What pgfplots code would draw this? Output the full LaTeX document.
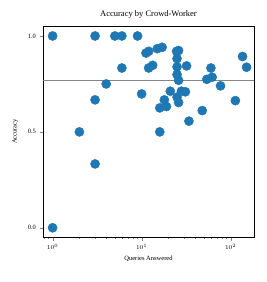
\documentclass[border=0pt]{standalone}
\usepackage{pgfplots}
\pgfplotsset{compat=1.18}
\usepackage{fontspec}
\setmainfont{Liberation Serif}
\definecolor{tabblue}{HTML}{1F77B4}
\begin{document}
\begin{tikzpicture}
\begin{axis}[
  scale only axis, width=211pt, height=211pt,
  xmode=log, xmin=0.78, xmax=183, ymin=-0.048, ymax=1.052,
  ytick={0,0.5,1}, yticklabel style={/pgf/number format/.cd, fixed, fixed zerofill, precision=1},
  /pgf/number format/assume math mode=true,
  tick align=outside, xtick pos=bottom, ytick pos=left,
  major tick length=3.5pt, minor tick length=2pt,
  tick label style={font=\fontsize{6.5}{7.5}\selectfont},
  label style={font=\fontsize{6.5}{8}\selectfont},
  title style={font=\fontsize{8.5}{10}\selectfont, yshift=-2pt},
  title={Accuracy by Crowd-Worker},
  xlabel={Queries Answered}, ylabel={Accuracy},
  xlabel style={yshift=1pt}, ylabel style={yshift=3pt},
  axis line style={line width=0.6pt},
  clip=true,
]
\addplot[color=black!48, line width=1.7pt] coordinates {(0.78,0.768) (183,0.768)};
\addplot[only marks, mark=*, mark size=4.6pt, color=tabblue] coordinates {
(1,1.0)(3,1.0)(5,1.0)(6,1.0)(9,1.0)
(11.2,0.911)(12,0.92)(15,0.934)(17,0.941)
(24.7,0.92)(26,0.924)(25,0.882)(25,0.839)(25,0.799)(26,0.769)(32,0.844)
(6,0.833)(12,0.833)(13.3,0.847)(60,0.833)(54,0.774)(62,0.785)(77,0.74)(136,0.893)(151,0.837)
(4,0.75)(10,0.698)(21,0.712)(28,0.712)(31,0.709)(25,0.681)(26,0.653)(18,0.667)(16,0.625)(19,0.632)
(3,0.667)(113,0.663)(48,0.611)(34,0.556)(2,0.5)(16,0.5)(3,0.333)(1,0.0)
};
\end{axis}
\path ([shift={(-43pt,-45pt)}]current axis.south west) rectangle ([shift={(13pt,26pt)}]current axis.north east);
\end{tikzpicture}
\end{document}
